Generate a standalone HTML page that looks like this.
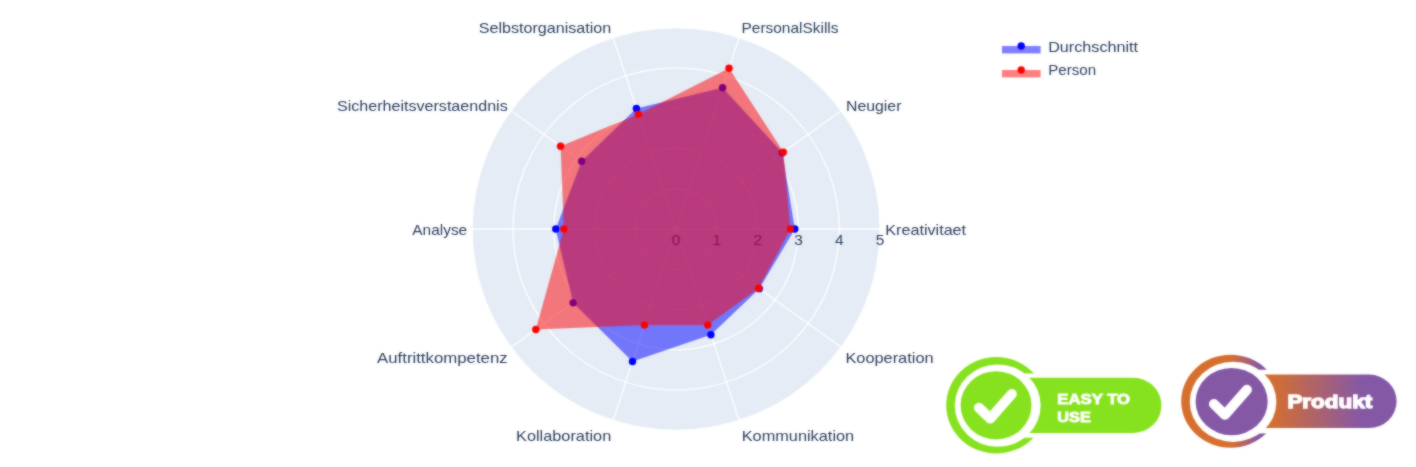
<!DOCTYPE html>
<html><head><meta charset="utf-8"><style>
html,body{margin:0;padding:0;background:#fff;}
body{width:1416px;height:467px;overflow:hidden;font-family:"Liberation Sans",sans-serif;}
svg{display:block}
svg text{font-family:"Liberation Sans",sans-serif;}
</style></head><body>
<svg width="1416" height="467" viewBox="0 0 1416 467">
<defs>
<linearGradient id="pg" gradientUnits="userSpaceOnUse" x1="1270" y1="0" x2="1362" y2="0"><stop offset="0" stop-color="#D66F2E"/><stop offset="1" stop-color="#8558A6"/></linearGradient>
<linearGradient id="rg" gradientUnits="userSpaceOnUse" x1="1230" y1="0" x2="1260" y2="0"><stop offset="0" stop-color="#D66F2E"/><stop offset="1" stop-color="#8558A6"/></linearGradient>
<clipPath id="gclip"><path d="M940,340H1100V373.6H1000V437.7H1100V467H940Z"/></clipPath>
<clipPath id="pclip"><path d="M1170,340H1340V369.8H1236V433.4H1340V467H1170Z"/></clipPath>
</defs>
<g id="all"><rect width="1416" height="467" fill="#fff"/>
<g id="chart">
<ellipse cx="676.1" cy="229.0" rx="204.0" ry="201.30" fill="#E5ECF6"/>
<ellipse cx="676.1" cy="229.0" rx="40.80" ry="40.26" fill="none" stroke="#fff" stroke-width="1.3"/><ellipse cx="676.1" cy="229.0" rx="81.60" ry="80.52" fill="none" stroke="#fff" stroke-width="1.3"/><ellipse cx="676.1" cy="229.0" rx="122.40" ry="120.78" fill="none" stroke="#fff" stroke-width="1.3"/><ellipse cx="676.1" cy="229.0" rx="163.20" ry="161.04" fill="none" stroke="#fff" stroke-width="1.3"/><ellipse cx="676.1" cy="229.0" rx="204.00" ry="201.30" fill="none" stroke="#fff" stroke-width="1.3"/><line x1="676.1" y1="229.0" x2="880.10" y2="229.00" stroke="#fff" stroke-width="1.3"/><line x1="676.1" y1="229.0" x2="841.14" y2="110.68" stroke="#fff" stroke-width="1.3"/><line x1="676.1" y1="229.0" x2="739.14" y2="37.55" stroke="#fff" stroke-width="1.3"/><line x1="676.1" y1="229.0" x2="613.06" y2="37.55" stroke="#fff" stroke-width="1.3"/><line x1="676.1" y1="229.0" x2="511.06" y2="110.68" stroke="#fff" stroke-width="1.3"/><line x1="676.1" y1="229.0" x2="472.10" y2="229.00" stroke="#fff" stroke-width="1.3"/><line x1="676.1" y1="229.0" x2="511.06" y2="347.32" stroke="#fff" stroke-width="1.3"/><line x1="676.1" y1="229.0" x2="613.06" y2="420.45" stroke="#fff" stroke-width="1.3"/><line x1="676.1" y1="229.0" x2="739.14" y2="420.45" stroke="#fff" stroke-width="1.3"/><line x1="676.1" y1="229.0" x2="841.14" y2="347.32" stroke="#fff" stroke-width="1.3"/>
<g font-size="15.4" fill="#2a3f5f"><text x="676.10" y="244.9" text-anchor="middle">0</text><text x="716.90" y="244.9" text-anchor="middle">1</text><text x="757.70" y="244.9" text-anchor="middle">2</text><text x="798.50" y="244.9" text-anchor="middle">3</text><text x="839.30" y="244.9" text-anchor="middle">4</text><text x="880.10" y="244.9" text-anchor="middle">5</text></g>
<polygon points="794.83,229.00 782.39,152.80 722.62,87.71 636.39,108.39 581.70,161.32 555.74,229.00 573.12,302.83 632.48,361.48 710.90,334.68 759.28,288.63" fill="rgba(0,0,255,0.5)"/>
<circle cx="794.83" cy="229.00" r="3.7" fill="#0000ff"/><circle cx="782.39" cy="152.80" r="3.7" fill="#0000ff"/><circle cx="722.62" cy="87.71" r="3.7" fill="#0000ff"/><circle cx="636.39" cy="108.39" r="3.7" fill="#0000ff"/><circle cx="581.70" cy="161.32" r="3.7" fill="#0000ff"/><circle cx="555.74" cy="229.00" r="3.7" fill="#0000ff"/><circle cx="573.12" cy="302.83" r="3.7" fill="#0000ff"/><circle cx="632.48" cy="361.48" r="3.7" fill="#0000ff"/><circle cx="710.90" cy="334.68" r="3.7" fill="#0000ff"/><circle cx="759.28" cy="288.63" r="3.7" fill="#0000ff"/>
<polygon points="790.34,229.00 783.38,152.09 729.05,68.18 638.28,114.13 560.57,146.18 563.90,229.00 535.82,329.57 644.45,325.11 707.75,325.11 758.62,288.16" fill="rgba(255,0,0,0.5)"/>
<circle cx="790.34" cy="229.00" r="3.7" fill="#ff0000"/><circle cx="783.38" cy="152.09" r="3.7" fill="#ff0000"/><circle cx="729.05" cy="68.18" r="3.7" fill="#ff0000"/><circle cx="638.28" cy="114.13" r="3.7" fill="#ff0000"/><circle cx="560.57" cy="146.18" r="3.7" fill="#ff0000"/><circle cx="563.90" cy="229.00" r="3.7" fill="#ff0000"/><circle cx="535.82" cy="329.57" r="3.7" fill="#ff0000"/><circle cx="644.45" cy="325.11" r="3.7" fill="#ff0000"/><circle cx="707.75" cy="325.11" r="3.7" fill="#ff0000"/><circle cx="758.62" cy="288.16" r="3.7" fill="#ff0000"/>
<g font-size="15" fill="#2a3f5f"><text x="885.3" y="234.7" textLength="80.8" lengthAdjust="spacingAndGlyphs">Kreativitaet</text><text x="846.0" y="110.8" textLength="55.4" lengthAdjust="spacingAndGlyphs">Neugier</text><text x="741.5" y="32.8" textLength="97.0" lengthAdjust="spacingAndGlyphs">PersonalSkills</text><text x="478.8" y="32.8" textLength="132.4" lengthAdjust="spacingAndGlyphs">Selbstorganisation</text><text x="337.0" y="111.1" textLength="170.7" lengthAdjust="spacingAndGlyphs">Sicherheitsverstaendnis</text><text x="412.3" y="234.7" textLength="54.9" lengthAdjust="spacingAndGlyphs">Analyse</text><text x="377.0" y="362.9" textLength="130.7" lengthAdjust="spacingAndGlyphs">Auftrittkompetenz</text><text x="516.0" y="440.5" textLength="95.2" lengthAdjust="spacingAndGlyphs">Kollaboration</text><text x="741.7" y="440.5" textLength="112.5" lengthAdjust="spacingAndGlyphs">Kommunikation</text><text x="845.4" y="362.9" textLength="88.2" lengthAdjust="spacingAndGlyphs">Kooperation</text><text x="1048.2" y="51.6" textLength="89.9" lengthAdjust="spacingAndGlyphs">Durchschnitt</text><text x="1048.2" y="75.4" textLength="47.9" lengthAdjust="spacingAndGlyphs">Person</text></g>
</g>
<g id="legend">
<rect x="1002" y="46" width="38.6" height="7.4" fill="rgba(0,0,255,0.5)"/>
<circle cx="1021.2" cy="46" r="3.7" fill="#0000ff"/>
<rect x="1002" y="70" width="38.6" height="7.4" fill="rgba(255,0,0,0.5)"/>
<circle cx="1021.2" cy="70" r="3.7" fill="#ff0000"/>
</g>
<g id="gbadge">
<ellipse cx="996.3" cy="405.3" rx="50.1" ry="48.2" fill="#86E21E" clip-path="url(#gclip)"/>
<path d="M1020,377.8H1133.4A28,27.55 0 0 1 1133.4,432.9H1020Z" fill="#86E21E"/>
<ellipse cx="997.75" cy="405.6" rx="42.95" ry="41.2" fill="#fff"/>
<ellipse cx="996.05" cy="405.3" rx="35.45" ry="34.1" fill="#86E21E"/>
<path d="M978.9,407.7L990.2,418.6L1011.8,394" fill="none" stroke="#fff" stroke-width="10" stroke-linecap="round" stroke-linejoin="round"/>
<g font-size="15.5" font-weight="bold" fill="#fff" stroke="#fff" stroke-width="0.9"><text x="1057.3" y="403.7" textLength="72.8" lengthAdjust="spacingAndGlyphs">EASY TO</text><text x="1057.3" y="422.1" textLength="33.5" lengthAdjust="spacingAndGlyphs">USE</text></g>
</g>
<g id="pbadge">
<ellipse cx="1230.6" cy="401.25" rx="49.4" ry="46.45" fill="url(#rg)" clip-path="url(#pclip)"/>
<path d="M1250,374.6H1369.2A27.4,26.75 0 0 1 1369.2,428.1H1250Z" fill="url(#pg)"/>
<ellipse cx="1233.1" cy="401.85" rx="43.3" ry="40.05" fill="#fff"/>
<ellipse cx="1231.65" cy="401.55" rx="36.05" ry="33.65" fill="#8558A6"/>
<path d="M1213.9,404L1225,414.8L1246.9,389.8" fill="none" stroke="#fff" stroke-width="10" stroke-linecap="round" stroke-linejoin="round"/>
<text x="1287.4" y="407.5" font-size="18.6" font-weight="bold" fill="#fff" stroke="#fff" stroke-width="1.3" textLength="84.8" lengthAdjust="spacingAndGlyphs">Produkt</text>
</g>
</g>
<use href="#all" style="filter:blur(0.85px)"/>
<use href="#all" opacity="0.45"/>
</svg>
</body></html>
